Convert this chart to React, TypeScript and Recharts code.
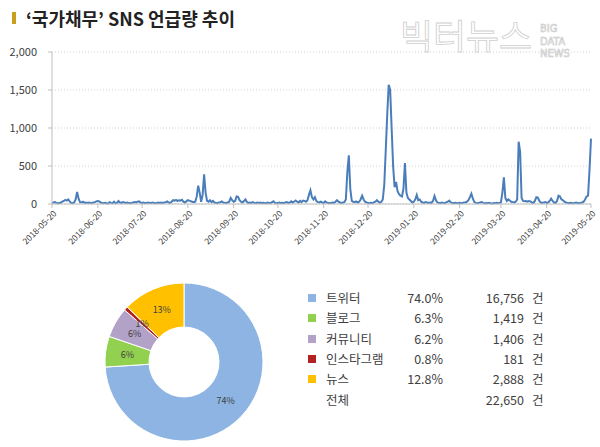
import { LineChart, Line, XAxis, YAxis, CartesianGrid, PieChart, Pie, Cell } from "recharts";

// daily mention counts, 2018-05-20 .. 2019-05-20
const may2018 = [10, 20, 25, 15, 10, 12, 20, 30, 40, 55, 45, 60];
const jun2018 = [35, 15, 10, 20, 60, 160, 70, 25, 20, 30, 15, 20, 15, 20, 15, 10, 20, 25, 35, 40, 35, 20, 15, 10, 15, 10, 8, 25, 15, 10];
const jul2018 = [30, 10, 15, 40, 20, 15, 25, 20, 15, 20, 12, 10, 15, 20, 25, 20, 30, 35, 20, 15, 20, 10, 15, 20, 15, 12, 20, 15, 10, 15, 20];
const aug2018 = [15, 20, 15, 20, 25, 35, 20, 15, 30, 50, 45, 55, 40, 50, 45, 55, 30, 20, 35, 50, 45, 35, 30, 25, 30, 100, 240, 150, 30, 120, 390];
const sep2018 = [150, 40, 30, 50, 25, 40, 20, 15, 10, 20, 25, 35, 20, 15, 12, 20, 30, 80, 50, 30, 40, 100, 95, 50, 30, 20, 40, 60, 25, 15];
const oct2018 = [20, 15, 25, 15, 10, 20, 15, 20, 10, 15, 12, 10, 20, 15, 10, 25, 35, 15, 10, 15, 20, 12, 15, 10, 20, 25, 15, 20, 35, 20, 30];
const nov2018 = [45, 30, 20, 40, 25, 45, 40, 30, 50, 120, 180, 90, 60, 90, 40, 25, 20, 30, 20, 15, 35, 20, 15, 10, 15, 20, 15, 30, 50, 30];
const dec2018 = [20, 15, 20, 25, 60, 420, 640, 200, 40, 30, 25, 35, 20, 30, 60, 110, 60, 30, 20, 15, 10, 15, 10, 20, 30, 50, 30, 15, 30, 60, 250];
const jan2019 = [700, 1170, 1570, 1500, 1000, 500, 220, 290, 170, 130, 110, 100, 200, 540, 150, 80, 60, 40, 20, 30, 60, 120, 50, 60, 30, 20, 15, 25, 20, 15, 20];
const feb2019 = [15, 40, 105, 50, 20, 15, 10, 20, 15, 10, 20, 30, 45, 20, 15, 10, 15, 12, 10, 15, 10, 15, 20, 20, 30, 50, 90, 135];
const mar2019 = [70, 25, 15, 10, 15, 20, 25, 15, 10, 12, 10, 15, 10, 8, 12, 10, 15, 10, 15, 20, 150, 350, 80, 40, 60, 45, 30, 25, 20, 30, 60];
const apr2019 = [820, 690, 80, 40, 35, 40, 30, 40, 35, 20, 15, 40, 90, 85, 40, 20, 15, 20, 25, 15, 20, 40, 70, 40, 20, 15, 40, 110, 100, 60];
const may2019 = [50, 30, 20, 15, 10, 15, 12, 10, 15, 20, 12, 10, 15, 20, 30, 60, 100, 110, 450, 860];

const dateTicks = [
  "2018-05-20", "2018-06-20", "2018-07-20", "2018-08-20", "2018-09-20", "2018-10-20", "2018-11-20",
  "2018-12-20", "2019-01-20", "2019-02-20", "2019-03-20", "2019-04-20", "2019-05-20",
];
const valueTicks = [0, 500, 1000, 1500, 2000];

const channels = ["트위터", "블로그", "커뮤니티", "인스타그램", "뉴스"];
const channelCounts = [16756, 1419, 1406, 181, 2888];
const channelShares = ["74.0%", "6.3%", "6.2%", "0.8%", "12.8%"];
const channelColors = ["#8db4e2", "#92d050", "#b3a2c7", "#b22222", "#ffc000"];
const totalCount = 22650;

const counts = [
  ...may2018, ...jun2018, ...jul2018, ...aug2018, ...sep2018, ...oct2018, ...nov2018,
  ...dec2018, ...jan2019, ...feb2019, ...mar2019, ...apr2019, ...may2019,
];

const start = Date.UTC(2018, 4, 20);
const lineData = counts.map((value, i) => ({
  date: new Date(start + i * 86400000).toISOString().slice(0, 10),
  value,
}));

const pieData = channels.map((name, i) => ({ name, value: channelCounts[i] }));

const FONT = "'Noto Sans CJK KR', 'Noto Sans', sans-serif";
const RADIAN = Math.PI / 180;

function DateTick({ x, y, payload }: any) {
  return (
    <g transform={`translate(${x + 3},${y + 2})`}>
      <text textAnchor="end" transform="rotate(-45)" dy="0.35em" fontSize={8.5} fill="#404040">
        {payload.value}
      </text>
    </g>
  );
}

function renderPieLabel({ cx, cy, midAngle, innerRadius, outerRadius, percent }: any) {
  const r = (innerRadius + outerRadius) / 2;
  const x = cx + r * Math.cos(-midAngle * RADIAN);
  const y = cy + r * Math.sin(-midAngle * RADIAN);
  return (
    <text x={x} y={y} textAnchor="middle" dominantBaseline="central" fontSize={9} fill="#404040">
      {`${Math.round(percent * 100)}%`}
    </text>
  );
}

export default function App() {
  const rowY = [298, 318, 339, 359, 379, 400];
  const textStyle = { position: "absolute" as const, fontSize: 12.5, lineHeight: "16px", color: "#404040" };

  return (
    <div style={{ position: "absolute", left: 0, top: 0, width: 600, height: 447, background: "#fff", fontFamily: FONT, overflow: "hidden" }}>
      <div style={{ position: "absolute", left: 12, top: 12, width: 4, height: 12, background: "#c9a01e" }} />
      <div style={{ position: "absolute", left: 26, top: 6, fontSize: 18, fontWeight: 700, lineHeight: "24px", color: "#222" }}>
        ‘국가채무’ SNS 언급량 추이
      </div>

      <svg style={{ position: "absolute", left: 0, top: 0 }} width={600} height={60}>
        <text x={400} y={49} fontSize={34} textLength={132} lengthAdjust="spacingAndGlyphs" fill="#fff" stroke="#cfcfcf" strokeWidth={0.8} fontFamily={FONT}>
          빅터뉴스
        </text>
        {["BIG", "DATA", "NEWS"].map((w, i) => (
          <text key={w} x={540} y={32 + i * 12.5} fontSize={11} fill="#fff" stroke="#c8c8c8" strokeWidth={0.6} fontFamily="'DejaVu Sans Condensed', sans-serif">
            {w}
          </text>
        ))}
      </svg>

      <div style={{ position: "absolute", left: 0, top: 0 }}>
        <LineChart width={600} height={262} data={lineData} margin={{ top: 52, right: 9, bottom: 4, left: 0 }}>
          <CartesianGrid vertical={false} stroke="#d0d0d0" strokeDasharray="1 2" />
          <XAxis
            dataKey="date"
            ticks={dateTicks}
            interval={0}
            height={54}
            tick={<DateTick />}
            tickSize={4}
            tickLine={{ stroke: "#bfbfbf" }}
            axisLine={{ stroke: "#bfbfbf" }}
          />
          <YAxis
            width={52}
            domain={[0, 2000]}
            ticks={valueTicks}
            tickFormatter={(v: number) => v.toLocaleString("en-US")}
            tick={{ fill: "#404040", fontSize: 11 }}
            tickSize={4}
            tickMargin={11}
            tickLine={{ stroke: "#bfbfbf" }}
            axisLine={{ stroke: "#bfbfbf" }}
          />
          <Line type="linear" dataKey="value" stroke="#4a7ebb" strokeWidth={2} dot={false} isAnimationActive={false} />
        </LineChart>
      </div>

      <div style={{ position: "absolute", left: 79, top: 268 }}>
        <PieChart width={200} height={179}>
          <Pie
            data={pieData}
            dataKey="value"
            cx={100}
            cy={89}
            innerRadius={35}
            outerRadius={79}
            startAngle={90}
            endAngle={-270}
            stroke="#fff"
            strokeWidth={1}
            label={renderPieLabel}
            labelLine={false}
            isAnimationActive={false}
          >
            {pieData.map((d, i) => (
              <Cell key={d.name} fill={channelColors[i]} />
            ))}
          </Pie>
        </PieChart>
      </div>

      {channels.map((name, i) => (
        <div key={name}>
          <div style={{ position: "absolute", left: 308, top: rowY[i] - 4, width: 8, height: 8, background: channelColors[i] }} />
          <div style={{ ...textStyle, left: 326, top: rowY[i] - 8 }}>{name}</div>
          <div style={{ ...textStyle, left: 383, top: rowY[i] - 8, width: 60, textAlign: "right" }}>{channelShares[i]}</div>
          <div style={{ ...textStyle, left: 454, top: rowY[i] - 8, width: 70, textAlign: "right" }}>
            {channelCounts[i].toLocaleString("en-US")}
          </div>
          <div style={{ ...textStyle, left: 532, top: rowY[i] - 8 }}>건</div>
        </div>
      ))}
      <div style={{ ...textStyle, left: 326, top: rowY[5] - 8 }}>전체</div>
      <div style={{ ...textStyle, left: 454, top: rowY[5] - 8, width: 70, textAlign: "right" }}>
        {totalCount.toLocaleString("en-US")}
      </div>
      <div style={{ ...textStyle, left: 532, top: rowY[5] - 8 }}>건</div>
    </div>
  );
}
